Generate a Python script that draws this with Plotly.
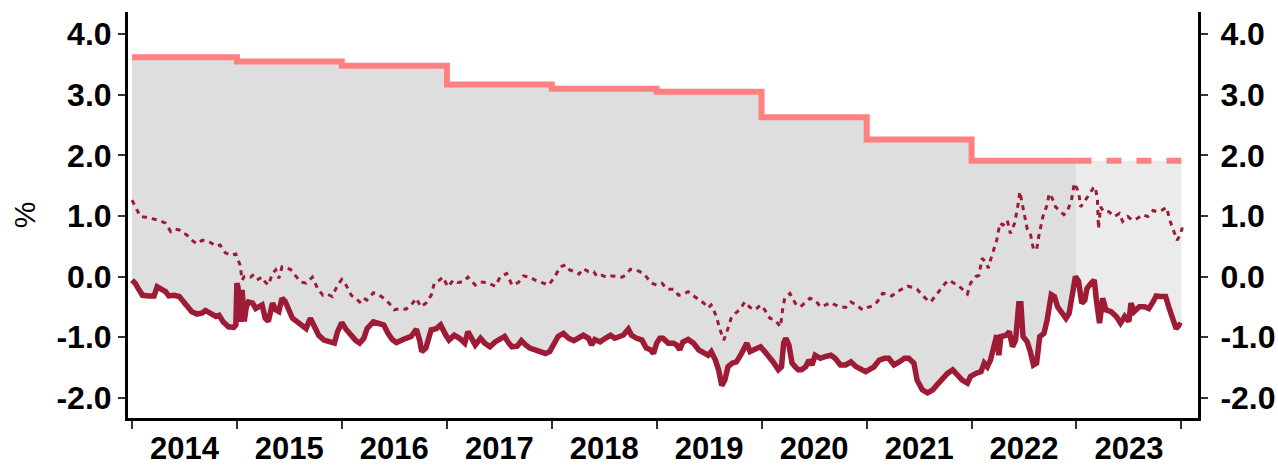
import numpy as np
import pandas as pd
import plotly.graph_objects as go

# ---- data -----------------------------------------------------------------
# Annual reference rate (%), one value per calendar year (last year = projection)
RATE_YEARS = [2014, 2015, 2016, 2017, 2018, 2019, 2020, 2021, 2022, 2023]
RATE_VALUES = [3.62, 3.55, 3.48, 3.17, 3.10, 3.05, 2.63, 2.26, 1.91, 1.91]

# Lower yield series (%), time in decimal years
LOW_T = [
    2014.00, 2014.03, 2014.06, 2014.10, 2014.16, 2014.21, 2014.24, 2014.27, 2014.32, 2014.35,
    2014.40, 2014.45, 2014.48, 2014.52, 2014.57, 2014.62, 2014.67, 2014.70, 2014.75, 2014.80,
    2014.83, 2014.87, 2014.92, 2014.97, 2014.99, 2015.00, 2015.01, 2015.03, 2015.05, 2015.07,
    2015.09, 2015.11, 2015.15, 2015.18, 2015.21, 2015.24, 2015.27, 2015.30, 2015.34, 2015.37,
    2015.40, 2015.43, 2015.46, 2015.49, 2015.53, 2015.57, 2015.61, 2015.66, 2015.70, 2015.74,
    2015.78, 2015.83, 2015.88, 2015.93, 2015.96, 2016.00, 2016.04, 2016.09, 2016.13, 2016.17,
    2016.21, 2016.24, 2016.30, 2016.36, 2016.40, 2016.44, 2016.48, 2016.52, 2016.56, 2016.61,
    2016.66, 2016.71, 2016.74, 2016.76, 2016.80, 2016.85, 2016.90, 2016.94, 2016.99, 2017.02,
    2017.07, 2017.12, 2017.17, 2017.20, 2017.27, 2017.32, 2017.36, 2017.41, 2017.46, 2017.51,
    2017.55, 2017.59, 2017.62, 2017.67, 2017.71, 2017.75, 2017.79, 2017.84, 2017.89, 2017.94,
    2017.98, 2018.02, 2018.06, 2018.11, 2018.16, 2018.21, 2018.25, 2018.30, 2018.35, 2018.38,
    2018.41, 2018.46, 2018.51, 2018.56, 2018.60, 2018.65, 2018.68, 2018.73, 2018.76, 2018.81,
    2018.86, 2018.90, 2018.94, 2018.97, 2019.00, 2019.03, 2019.06, 2019.11, 2019.16, 2019.19,
    2019.22, 2019.25, 2019.30, 2019.35, 2019.40, 2019.45, 2019.49, 2019.52, 2019.56, 2019.59,
    2019.62, 2019.65, 2019.68, 2019.72, 2019.76, 2019.80, 2019.83, 2019.86, 2019.89, 2019.94,
    2019.99, 2020.03, 2020.07, 2020.11, 2020.16, 2020.19, 2020.21, 2020.23, 2020.26, 2020.29,
    2020.32, 2020.35, 2020.38, 2020.42, 2020.45, 2020.48, 2020.51, 2020.56, 2020.61, 2020.66,
    2020.70, 2020.75, 2020.80, 2020.85, 2020.90, 2020.94, 2020.99, 2021.02, 2021.07, 2021.12,
    2021.17, 2021.21, 2021.26, 2021.31, 2021.36, 2021.40, 2021.45, 2021.48, 2021.53, 2021.58,
    2021.63, 2021.67, 2021.72, 2021.77, 2021.82, 2021.87, 2021.91, 2021.96, 2021.99, 2022.04,
    2022.09, 2022.12, 2022.15, 2022.18, 2022.21, 2022.24, 2022.26, 2022.28, 2022.33, 2022.36,
    2022.39, 2022.42, 2022.45, 2022.47, 2022.49, 2022.53, 2022.56, 2022.59, 2022.62, 2022.65,
    2022.69, 2022.72, 2022.76, 2022.79, 2022.82, 2022.86, 2022.90, 2022.93, 2022.96, 2022.99,
    2023.02, 2023.05, 2023.08, 2023.10, 2023.14, 2023.17, 2023.19, 2023.22, 2023.25, 2023.28,
    2023.33, 2023.38, 2023.42, 2023.46, 2023.50, 2023.52, 2023.55, 2023.60, 2023.65, 2023.69,
    2023.73, 2023.76, 2023.80, 2023.85, 2023.88, 2023.92, 2023.95, 2023.98, 2024.00,
]
LOW_V = [
    -0.06, -0.11, -0.20, -0.31, -0.32, -0.32, -0.17, -0.21, -0.25, -0.32,
    -0.31, -0.33, -0.39, -0.47, -0.58, -0.62, -0.60, -0.56, -0.62, -0.66,
    -0.64, -0.75, -0.83, -0.84, -0.80, -0.11, -0.17, -0.75, -0.22, -0.74,
    -0.50, -0.42, -0.44, -0.53, -0.50, -0.47, -0.69, -0.74, -0.44, -0.55,
    -0.58, -0.36, -0.41, -0.55, -0.69, -0.74, -0.80, -0.86, -0.69, -0.83,
    -0.97, -1.05, -1.08, -1.10, -0.91, -0.76, -0.87, -0.99, -1.05, -1.10,
    -1.02, -0.86, -0.75, -0.78, -0.80, -0.94, -1.04, -1.09, -1.05, -1.02,
    -0.99, -0.87, -1.05, -1.24, -1.18, -0.88, -0.86, -0.80, -0.97, -1.05,
    -0.97, -1.02, -1.10, -0.91, -1.13, -1.02, -1.10, -1.16, -1.08, -1.02,
    -0.99, -1.10, -1.16, -1.15, -1.06, -1.13, -1.18, -1.21, -1.24, -1.27,
    -1.24, -1.13, -0.99, -0.94, -1.02, -1.06, -1.02, -0.97, -1.02, -1.13,
    -1.04, -1.08, -1.02, -0.97, -1.02, -0.99, -0.97, -0.87, -0.97, -1.02,
    -1.05, -1.18, -1.21, -1.27, -1.10, -1.02, -1.02, -1.10, -1.10, -1.13,
    -1.21, -1.08, -1.04, -1.10, -1.21, -1.26, -1.30, -1.24, -1.38, -1.54,
    -1.80, -1.71, -1.49, -1.43, -1.41, -1.30, -1.21, -1.10, -1.24, -1.21,
    -1.16, -1.24, -1.32, -1.41, -1.54, -1.49, -1.10, -1.02, -1.13, -1.43,
    -1.49, -1.54, -1.54, -1.49, -1.38, -1.46, -1.30, -1.35, -1.32, -1.30,
    -1.35, -1.46, -1.46, -1.41, -1.49, -1.52, -1.57, -1.54, -1.49, -1.38,
    -1.35, -1.35, -1.46, -1.41, -1.35, -1.35, -1.43, -1.71, -1.87, -1.92,
    -1.87, -1.79, -1.68, -1.60, -1.54, -1.65, -1.71, -1.76, -1.65, -1.60,
    -1.57, -1.43, -1.49, -1.38, -1.16, -0.97, -1.30, -0.99, -0.97, -0.91,
    -1.16, -1.05, -0.45, -0.45, -0.99, -1.08, -1.24, -1.46, -1.43, -0.99,
    -0.94, -0.72, -0.30, -0.33, -0.50, -0.61, -0.69, -0.61, -0.33, 0.00,
    -0.08, -0.44, -0.39, -0.20, -0.11, -0.06, -0.39, -0.77, -0.36, -0.55,
    -0.58, -0.66, -0.77, -0.66, -0.74, -0.44, -0.58, -0.50, -0.50, -0.53,
    -0.42, -0.32, -0.33, -0.33, -0.50, -0.74, -0.86, -0.80, -0.82,
]

# Upper yield series (%), time in decimal years
HIGH_T = [
    2014.00, 2014.03, 2014.08, 2014.13, 2014.17, 2014.22, 2014.25, 2014.32, 2014.37, 2014.41,
    2014.45, 2014.48, 2014.52, 2014.57, 2014.62, 2014.67, 2014.72, 2014.75, 2014.80, 2014.84,
    2014.89, 2014.94, 2014.99, 2015.03, 2015.05, 2015.07, 2015.10, 2015.13, 2015.15, 2015.19,
    2015.24, 2015.27, 2015.30, 2015.34, 2015.37, 2015.40, 2015.43, 2015.48, 2015.51, 2015.56,
    2015.61, 2015.66, 2015.69, 2015.72, 2015.77, 2015.82, 2015.86, 2015.91, 2015.96, 2016.00,
    2016.04, 2016.09, 2016.13, 2016.17, 2016.20, 2016.24, 2016.30, 2016.36, 2016.40, 2016.45,
    2016.50, 2016.55, 2016.61, 2016.66, 2016.71, 2016.75, 2016.80, 2016.85, 2016.88, 2016.93,
    2016.96, 2017.01, 2017.06, 2017.10, 2017.15, 2017.20, 2017.27, 2017.32, 2017.38, 2017.46,
    2017.51, 2017.57, 2017.62, 2017.68, 2017.73, 2017.79, 2017.84, 2017.89, 2017.97, 2018.03,
    2018.08, 2018.13, 2018.17, 2018.22, 2018.26, 2018.30, 2018.35, 2018.40, 2018.43, 2018.48,
    2018.52, 2018.57, 2018.62, 2018.67, 2018.70, 2018.75, 2018.80, 2018.84, 2018.89, 2018.95,
    2019.00, 2019.05, 2019.10, 2019.16, 2019.21, 2019.25, 2019.30, 2019.35, 2019.40, 2019.45,
    2019.49, 2019.52, 2019.57, 2019.60, 2019.64, 2019.67, 2019.71, 2019.75, 2019.80, 2019.84,
    2019.89, 2019.94, 2019.99, 2020.03, 2020.08, 2020.13, 2020.18, 2020.20, 2020.22, 2020.27,
    2020.32, 2020.37, 2020.42, 2020.46, 2020.51, 2020.56, 2020.61, 2020.66, 2020.70, 2020.75,
    2020.80, 2020.85, 2020.90, 2020.96, 2021.01, 2021.05, 2021.10, 2021.15, 2021.20, 2021.24,
    2021.29, 2021.34, 2021.39, 2021.44, 2021.48, 2021.53, 2021.58, 2021.61, 2021.66, 2021.71,
    2021.75, 2021.79, 2021.82, 2021.87, 2021.91, 2021.96, 2021.99, 2022.04, 2022.07, 2022.10,
    2022.13, 2022.16, 2022.18, 2022.21, 2022.24, 2022.27, 2022.30, 2022.34, 2022.37, 2022.41,
    2022.44, 2022.46, 2022.48, 2022.51, 2022.53, 2022.56, 2022.59, 2022.62, 2022.64, 2022.68,
    2022.72, 2022.74, 2022.77, 2022.80, 2022.83, 2022.88, 2022.91, 2022.95, 2022.98, 2023.02,
    2023.04, 2023.08, 2023.12, 2023.16, 2023.18, 2023.20, 2023.21, 2023.23, 2023.26, 2023.31,
    2023.36, 2023.41, 2023.44, 2023.49, 2023.53, 2023.58, 2023.63, 2023.68, 2023.73, 2023.77,
    2023.82, 2023.86, 2023.89, 2023.93, 2023.96, 2023.99, 2024.01,
]
HIGH_V = [
    1.26, 1.15, 0.99, 0.98, 0.96, 0.94, 0.93, 0.88, 0.74, 0.78,
    0.77, 0.72, 0.69, 0.60, 0.54, 0.60, 0.58, 0.56, 0.50, 0.52,
    0.39, 0.35, 0.37, 0.19, -0.06, 0.00, 0.01, -0.01, 0.02, -0.06,
    -0.01, -0.09, -0.14, 0.05, 0.11, -0.03, 0.16, 0.13, 0.12, 0.01,
    -0.09, -0.11, -0.06, -0.01, -0.20, -0.31, -0.29, -0.33, -0.14, -0.05,
    -0.14, -0.31, -0.36, -0.42, -0.35, -0.39, -0.27, -0.31, -0.36, -0.44,
    -0.55, -0.53, -0.54, -0.47, -0.36, -0.50, -0.44, -0.31, -0.11, -0.06,
    -0.01, -0.17, -0.06, -0.10, -0.09, -0.01, -0.14, -0.09, -0.10, -0.16,
    0.00, 0.05, -0.14, -0.10, 0.01, -0.01, -0.06, -0.09, -0.14, 0.00,
    0.16, 0.19, 0.11, 0.08, 0.04, 0.13, 0.08, 0.08, 0.00, 0.02,
    -0.01, 0.01, 0.00, -0.01, 0.02, 0.12, 0.11, 0.08, 0.02, -0.11,
    -0.14, -0.11, -0.21, -0.21, -0.31, -0.29, -0.25, -0.32, -0.38, -0.44,
    -0.52, -0.47, -0.66, -0.86, -1.05, -0.91, -0.69, -0.61, -0.53, -0.42,
    -0.51, -0.55, -0.47, -0.55, -0.69, -0.72, -0.83, -0.55, -0.36, -0.28,
    -0.44, -0.50, -0.42, -0.36, -0.39, -0.50, -0.47, -0.43, -0.47, -0.50,
    -0.51, -0.42, -0.47, -0.55, -0.51, -0.49, -0.42, -0.28, -0.29, -0.32,
    -0.25, -0.20, -0.16, -0.18, -0.21, -0.31, -0.39, -0.42, -0.31, -0.20,
    -0.11, -0.06, -0.10, -0.14, -0.20, -0.29, -0.11, 0.00, 0.02, 0.30,
    0.25, 0.14, 0.27, 0.44, 0.60, 0.88, 0.85, 0.93, 0.71, 0.88,
    1.15, 1.40, 1.21, 0.93, 0.79, 0.71, 0.45, 0.44, 0.66, 0.99,
    1.18, 1.37, 1.29, 1.15, 1.10, 1.02, 1.07, 1.24, 1.54, 1.40,
    1.15, 1.24, 1.35, 1.46, 1.48, 1.26, 0.79, 1.15, 1.07, 1.07,
    0.99, 1.04, 0.91, 0.99, 0.93, 0.96, 1.02, 0.99, 1.09, 1.07,
    1.10, 1.14, 0.93, 0.74, 0.60, 0.69, 0.81,
]

Y_TICKS = [-2.0, -1.0, 0.0, 1.0, 2.0, 3.0, 4.0]
Y_TITLE = "%"
PROJECTION_START = 2023

# ---- styling ----------------------------------------------------------------
RATE_COLOR = "#FF8080"
YIELD_COLOR = "#9E1B36"
FILL_DARK = "#DEDEDE"
FILL_LIGHT = "#EBEBEB"
FONT = "Liberation Sans, Arial, sans-serif"


def to_date(t):
    """Convert a decimal year into a timestamp."""
    y = int(np.floor(t))
    start = pd.Timestamp(year=y, month=1, day=1)
    end = pd.Timestamp(year=y + 1, month=1, day=1)
    return start + (end - start) * (t - y)


def step_path(years, values):
    xs, ys = [], []
    for yr, v in zip(years, values):
        xs += [to_date(yr), to_date(yr + 1)]
        ys += [v, v]
    return xs, ys


low_t = np.array(LOW_T)
low_v = np.array(LOW_V)
split_v = float(np.interp(PROJECTION_START, low_t, low_v))

hist_mask = low_t < PROJECTION_START
proj_mask = low_t > PROJECTION_START
low_hist_x = [to_date(t) for t in low_t[hist_mask]] + [to_date(PROJECTION_START)]
low_hist_y = list(low_v[hist_mask]) + [split_v]
low_proj_x = [to_date(PROJECTION_START)] + [to_date(t) for t in low_t[proj_mask]]
low_proj_y = [split_v] + list(low_v[proj_mask])

hist_years = [y for y in RATE_YEARS if y < PROJECTION_START]
hist_rates = [v for y, v in zip(RATE_YEARS, RATE_VALUES) if y < PROJECTION_START]
proj_years = [y for y in RATE_YEARS if y >= PROJECTION_START]
proj_rates = [v for y, v in zip(RATE_YEARS, RATE_VALUES) if y >= PROJECTION_START]

step_hist_x, step_hist_y = step_path(hist_years, hist_rates)
step_proj_x, step_proj_y = step_path(proj_years, proj_rates)

fig = go.Figure()

# shaded spread between the reference rate and the lower yield
fig.add_trace(go.Scatter(x=step_hist_x, y=step_hist_y, mode="lines",
                         line=dict(width=0), hoverinfo="skip", showlegend=False))
fig.add_trace(go.Scatter(x=low_hist_x, y=low_hist_y, mode="lines", fill="tonexty",
                         fillcolor=FILL_DARK, line=dict(width=0),
                         hoverinfo="skip", showlegend=False))
fig.add_trace(go.Scatter(x=step_proj_x, y=step_proj_y, mode="lines",
                         line=dict(width=0), hoverinfo="skip", showlegend=False))
fig.add_trace(go.Scatter(x=low_proj_x, y=low_proj_y, mode="lines", fill="tonexty",
                         fillcolor=FILL_LIGHT, line=dict(width=0),
                         hoverinfo="skip", showlegend=False))

# reference rate: realised years solid, projection dashed
fig.add_trace(go.Scatter(x=step_hist_x, y=step_hist_y, mode="lines",
                         line=dict(color=RATE_COLOR, width=6), showlegend=False))
fig.add_trace(go.Scatter(x=step_proj_x, y=step_proj_y, mode="lines",
                         line=dict(color=RATE_COLOR, width=6, dash="15px,15px"),
                         showlegend=False))

# yields
fig.add_trace(go.Scatter(x=[to_date(t) for t in HIGH_T], y=HIGH_V, mode="lines",
                         line=dict(color=YIELD_COLOR, width=3, dash="5px,5px"),
                         showlegend=False))
fig.add_trace(go.Scatter(x=[to_date(t) for t in LOW_T], y=LOW_V, mode="lines",
                         line=dict(color=YIELD_COLOR, width=5.5), showlegend=False))

# anchor for the right-hand axis
fig.add_trace(go.Scatter(x=[to_date(LOW_T[0])], y=[LOW_V[0]], yaxis="y2", mode="markers",
                         marker=dict(opacity=0), hoverinfo="skip", showlegend=False))

y_range = [-2.336, 4.367]
tick_text = [f"{v:.1f}" for v in Y_TICKS]
tick_font = dict(family=FONT, size=32, color="black", weight="bold")

yaxis_common = dict(
    range=y_range, tickmode="array", tickvals=Y_TICKS, ticktext=tick_text,
    showgrid=False, zeroline=False, showline=True, linecolor="black", linewidth=3,
    ticks="outside", ticklen=7, tickwidth=1.5, tickcolor="#333333",
    tickfont=tick_font, fixedrange=True, automargin=False,
)

fig.update_layout(
    width=1278, height=465,
    margin=dict(l=128, r=80, t=12, b=47, autoexpand=False),
    paper_bgcolor="white", plot_bgcolor="white",
    font=dict(family=FONT, color="black"),
    xaxis=dict(
        type="date", range=["2013-12-18", "2024-02-28"],
        tick0="2014-01-01", dtick="M12", tickformat="%Y", ticklabelmode="period",
        showgrid=False, zeroline=False, showline=True, linecolor="black", linewidth=3,
        ticks="outside", ticklen=8, tickwidth=1.5, tickcolor="#333333",
        tickfont=dict(family=FONT, size=31, color="black", weight="bold"),
        ticklabelstandoff=-7, fixedrange=True, automargin=False,
    ),
    yaxis=dict(**yaxis_common, side="left",
               title=dict(text=Y_TITLE, font=dict(family=FONT, size=30, color="black"),
                          standoff=12)),
    yaxis2=dict(**yaxis_common, side="right", overlaying="y", ticklabelstandoff=6),
)

fig.write_html("out.html")
